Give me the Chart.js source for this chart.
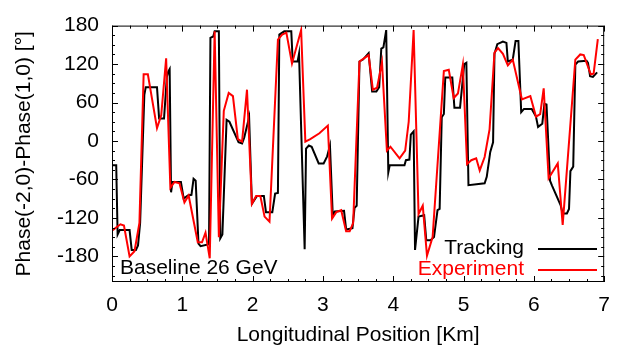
<!DOCTYPE html>
<html>
<head>
<meta charset="utf-8">
<script src="https://cdn.jsdelivr.net/npm/chart.js@4.4.1/dist/chart.umd.min.js"></script>
<style>
  html, body { margin: 0; padding: 0; background: #fff; }
  #wrap { width: 621px; height: 352px; }
</style>
</head>
<body>
<div id="wrap"><canvas id="phaseChart" width="621" height="352"></canvas></div>
<script>
// Tracking (black)
const trackX = [0.01, 0.06, 0.08, 0.11, 0.25, 0.28, 0.34, 0.37, 0.40, 0.46, 0.48, 0.64, 0.67, 0.74, 0.78, 0.80, 0.82, 0.84, 0.86, 0.98,
    1.02, 1.08, 1.13, 1.16, 1.19, 1.23, 1.26, 1.38, 1.40, 1.44, 1.46, 1.52, 1.54, 1.57, 1.63, 1.67, 1.80, 1.85, 1.88, 1.95,
    1.99, 2.06, 2.16, 2.19, 2.28, 2.32, 2.36, 2.38, 2.45, 2.55, 2.57, 2.64, 2.66, 2.74, 2.76, 2.80, 2.84, 2.94, 3.01, 3.06,
    3.10, 3.14, 3.17, 3.30, 3.33, 3.42, 3.45, 3.48, 3.52, 3.57, 3.65, 3.70, 3.76, 3.80, 3.83, 3.86, 3.90, 3.93, 3.95, 4.16,
    4.18, 4.23, 4.25, 4.29, 4.31, 4.36, 4.44, 4.47, 4.53, 4.58, 4.63, 4.66, 4.69, 4.72, 4.74, 4.84, 4.87, 4.95, 5.01, 5.04,
    5.07, 5.30, 5.33, 5.38, 5.42, 5.44, 5.48, 5.56, 5.61, 5.63, 5.70, 5.74, 5.78, 5.82, 5.86, 5.97, 6.03, 6.06, 6.12, 6.15,
    6.18, 6.23, 6.26, 6.38, 6.41, 6.47, 6.50, 6.52, 6.56, 6.59, 6.63, 6.75, 6.77, 6.80, 6.84, 6.90];
const trackY = [-38, -38, -146, -139, -139, -170, -170, -163, -128, 72, 84, 84, 35, 35, 100, 108, 112, -80, -64, -64,
    -90, -85, -84, -59, -62, -160, -164, -161, 161, 163, 171, 171, -152, -146, 33, 30, -2, -4, 5, 37,
    -98, -86, -86, -111, -111, -82, -81, 166, 171, 171, 124, 124, 136, -169, -12, -7, -9, -35, -35, -24,
    -7, -116, -110, -109, -138, -136, -104, -101, 124, 127, 137, 77, 77, 84, 144, 146, 173, -49, -38, -38,
    -30, -29, 10, 15, -170, -118, -116, -155, -155, -150, -108, -106, 37, 42, 99, 99, 52, 52, 120, 122,
    -69, -66, -56, -17, -2, 136, 151, 155, 153, 124, 127, 156, 156, 45, 50, 50, 38, 22, 27, 58,
    57, -62, -70, -100, -113, -113, -106, -47, -40, 119, 124, 125, 122, 101, 100, 107];

// Experiment (red)
const expX = [0.01, 0.12, 0.17, 0.25, 0.32, 0.39, 0.45, 0.51, 0.64, 0.70, 0.77, 0.83, 0.89, 0.96, 1.03, 1.09, 1.22, 1.28, 1.33, 1.39,
    1.46, 1.52, 1.59, 1.66, 1.72, 1.79, 1.85, 1.92, 1.99, 2.05, 2.11, 2.17, 2.24, 2.36, 2.42, 2.48, 2.56, 2.69, 2.75, 2.82,
    2.95, 3.07, 3.13, 3.19, 3.26, 3.33, 3.38, 3.43, 3.52, 3.65, 3.71, 3.77, 3.84, 3.91, 3.96, 4.09, 4.17, 4.22, 4.29, 4.36,
    4.42, 4.48, 4.56, 4.72, 4.79, 4.86, 4.92, 4.99, 5.05, 5.11, 5.18, 5.23, 5.30, 5.37, 5.44, 5.49, 5.56, 5.63, 5.70, 5.83,
    5.95, 6.03, 6.09, 6.14, 6.21, 6.34, 6.41, 6.59, 6.66, 6.71, 6.81, 6.85, 6.91];
const expY = [-139, -130, -132, -180, -172, -128, 104, 104, 20, 40, 129, -73, -64, -66, -96, -85, -158, -158, -143, -183,
    171, -150, 47, 75, 70, 3, -1, 80, -98, -86, -86, -118, -126, 158, 166, 169, 121, 173, -1, 3,
    12, 24, -121, -111, -108, -141, -141, -128, 124, 134, 80, 83, 123, -15, -9, -27, -15, 30, 173, -114,
    -101, -179, -150, 109, 111, 67, 74, 119, -36, -30, -27, -46, -25, 18, 138, 145, 136, 118, 127, 65,
    70, 38, 42, 82, -58, -35, -131, 127, 135, 134, 104, 105, 159];

const xTicks = [0, 1, 2, 3, 4, 5, 6, 7];
const yTicks = [-180, -120, -60, 0, 60, 120, 180];

const FONT = 'Liberation Sans, Arial, Helvetica, sans-serif';

function toPoints(xs, ys) {
    return xs.map((x, i) => ({ x: x, y: ys[i] }));
}

// box, mirrored inner ticks, key and label
const framePlugin = {
    id: 'frame',
    afterDraw(chart) {
        const ctx = chart.ctx;
        const a = chart.chartArea;
        const xs = chart.scales.x;
        const ys = chart.scales.y;
        ctx.save();
        ctx.strokeStyle = '#000';
        ctx.lineWidth = 1;
        ctx.strokeRect(a.left + 0.5, a.top + 0.5, a.right - a.left - 1, a.bottom - a.top - 1);

        ctx.beginPath();
        for (let v = 0; v <= 7.001; v += 0.25) {
            const px = Math.round(xs.getPixelForValue(v)) + 0.5;
            const len = Math.abs(v - Math.round(v)) < 0.01 ? 6 : 3;
            ctx.moveTo(px, a.bottom); ctx.lineTo(px, a.bottom - len);
            ctx.moveTo(px, a.top); ctx.lineTo(px, a.top + len);
        }
        for (let v = -210; v <= 180; v += 15) {
            const py = Math.round(ys.getPixelForValue(v)) + 0.5;
            const len = v % 60 === 0 ? 6 : 3;
            ctx.moveTo(a.left, py); ctx.lineTo(a.left + len, py);
            ctx.moveTo(a.right, py); ctx.lineTo(a.right - len, py);
        }
        ctx.stroke();

        // key
        ctx.font = '21px ' + FONT;
        ctx.textBaseline = 'middle';
        ctx.textAlign = 'right';
        const keyY = [248, 269];
        chart.data.datasets.forEach((ds, i) => {
            ctx.fillStyle = ds.borderColor;
            ctx.fillText(ds.label, 524, keyY[i]);
            ctx.strokeStyle = ds.borderColor;
            ctx.lineWidth = 2;
            ctx.beginPath();
            ctx.moveTo(538, keyY[i] + 1);
            ctx.lineTo(597, keyY[i] + 1);
            ctx.stroke();
        });

        ctx.fillStyle = '#000';
        ctx.textAlign = 'left';
        ctx.fillText('Baseline 26 GeV', 120, 268);
        ctx.restore();
    }
};

const ctx = document.getElementById('phaseChart').getContext('2d');
const chart = new Chart(ctx, {
    type: 'line',
    data: {
        datasets: [{
            label: 'Tracking',
            data: toPoints(trackX, trackY),
            borderColor: '#000000',
            borderWidth: 2,
            pointRadius: 0,
            tension: 0,
            fill: false,
            order: 2
        }, {
            label: 'Experiment',
            data: toPoints(expX, expY),
            borderColor: '#ff0000',
            borderWidth: 2,
            pointRadius: 0,
            tension: 0,
            fill: false,
            order: 1
        }]
    },
    options: {
        responsive: false,
        animation: false,
        devicePixelRatio: 1,
        layout: {
            padding: { left: 0, right: 12, top: 13, bottom: 0 }
        },
        plugins: {
            legend: { display: false },
            tooltip: { enabled: false }
        },
        scales: {
            x: {
                type: 'linear',
                min: 0,
                max: 7,
                afterBuildTicks: scale => { scale.ticks = xTicks.map(v => ({ value: v })); },
                afterFit: scale => { scale.height = 70; },
                ticks: {
                    color: '#000',
                    font: { size: 21, family: FONT },
                    padding: 11,
                    maxRotation: 0,
                    autoSkip: false
                },
                grid: { display: false, drawTicks: false },
                border: { display: false },
                title: {
                    display: true,
                    text: 'Longitudinal Position [Km]',
                    color: '#000',
                    font: { size: 21, family: FONT },
                    padding: { top: 0, bottom: 4 }
                }
            },
            y: {
                type: 'linear',
                min: -220,
                max: 180,
                afterBuildTicks: scale => { scale.ticks = yTicks.map(v => ({ value: v })); },
                afterFit: scale => { scale.width = 112; },
                ticks: {
                    color: '#000',
                    font: { size: 21, family: FONT },
                    padding: 13,
                    autoSkip: false
                },
                grid: { display: false, drawTicks: false },
                border: { display: false },
                title: {
                    display: true,
                    text: 'Phase(-2,0)-Phase(1,0) [°]',
                    color: '#000',
                    font: { size: 21, family: FONT },
                    padding: { top: 12, bottom: 0 }
                }
            }
        }
    },
    plugins: [framePlugin]
});
</script>
</body>
</html>
